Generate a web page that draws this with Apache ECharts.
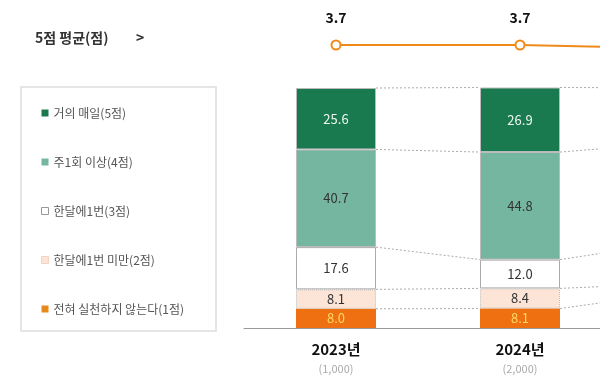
<!DOCTYPE html>
<html><head><meta charset="utf-8">
<script src="https://cdn.jsdelivr.net/npm/echarts@6/dist/echarts.min.js"></script>
<style>html,body{margin:0;padding:0;overflow:hidden;background:#fff;width:600px;height:383px}#c{width:900px;height:383px}</style>
</head><body><div id="c"></div>
<script>
// ---- data ----
const years = ['2023년', '2024년', '2025년'];
const sampleSizes = ['1,000', '2,000', '2,000'];
const avgScore = [3.7, 3.7, 3.6];
const seriesNames = ['전혀 실천하지 않는다(1점)', '한달에1번 미만(2점)', '한달에1번(3점)', '주1회 이상(4점)', '거의 매일(5점)'];
const score1 = [8.0, 8.1, 14.2];
const score2 = [8.1, 8.4, 4.2];
const score3 = [17.6, 12.0, 16.7];
const score4 = [40.7, 44.8, 41.7];
const score5 = [25.6, 26.9, 23.3];
const legendOrder = ['거의 매일(5점)', '주1회 이상(4점)', '한달에1번(3점)', '한달에1번 미만(2점)', '전혀 실천하지 않는다(1점)'];

const stackVals = [score1, score2, score3, score4, score5];
const colors = ['#ee7010', '#fce4d6', '#ffffff', '#74b6a0', '#1a7a4f'];
const legendColors = ['#e8891a', '#fce4d6', '#ffffff', '#74b6a0', '#1a7a4f'];
const labelColors = ['#ffd966', '#333333', '#333333', '#333333', '#eef8ee'];
const borders = [
  {borderWidth: 0},
  {borderColor: '#bbb', borderWidth: 1, borderType: 'dotted'},
  {borderColor: '#aaa', borderWidth: 1},
  {borderColor: '#bbb', borderWidth: 1},
  {borderColor: '#bbb', borderWidth: 1}
];

// connector data: cumulative boundaries between consecutive bars
const connData = [];
for (let i = 0; i < years.length - 1; i++) {
  let a = 0, b = 0;
  for (let s = 0; s < stackVals.length; s++) {
    a += stackVals[s][i]; b += stackVals[s][i + 1];
    connData.push([i, a, b]);
  }
}

const FONT = '"Noto Sans CJK KR", "Noto Sans", sans-serif';
const chart = echarts.init(document.getElementById('c'), null, {renderer: 'canvas'});

const barSeries = seriesNames.map((n, s) => ({
  name: n, type: 'bar', stack: 'total', barWidth: 80,
  xAxisIndex: 0, yAxisIndex: 0,
  data: stackVals[s],
  itemStyle: Object.assign({color: colors[s]}, borders[s]),
  label: {show: true, position: 'inside', color: labelColors[s], fontSize: 13, fontFamily: FONT,
    formatter: p => p.value.toFixed(1)},
  emphasis: {disabled: true},
  z: 3
}));

const legendData = legendOrder.map(n => {
  const s = seriesNames.indexOf(n);
  const st = {color: legendColors[s], borderWidth: 0};
  if (s === 2) { st.borderColor = '#999'; st.borderWidth = 1; }
  if (s === 1) { st.borderColor = '#f0d5c5'; st.borderWidth = 1; }
  return {name: n, itemStyle: st};
});

chart.setOption({
  animation: false,
  textStyle: {fontFamily: FONT},
  grid: [
    {left: 244, right: 104, top: 88, bottom: 55},
    {left: 244, right: 104, top: 33, height: 40}
  ],
  xAxis: [
    {type: 'category', data: years, gridIndex: 0,
      axisLine: {lineStyle: {color: '#999', width: 1}}, axisTick: {show: false},
      axisLabel: {margin: 11, interval: 0,
        formatter: (v, i) => '{a|' + v + '}\n{b|(' + sampleSizes[i] + ')}',
        rich: {a: {fontSize: 15, fontWeight: 'bold', color: '#111', lineHeight: 20, fontFamily: FONT},
               b: {fontSize: 11, color: '#aaa', lineHeight: 19, fontFamily: FONT}}}},
    {type: 'category', data: years, gridIndex: 1, show: false}
  ],
  yAxis: [
    {type: 'value', min: 0, max: 100, gridIndex: 0, show: false},
    {type: 'value', min: 3, max: 4, gridIndex: 1, show: false}
  ],
  legend: {
    orient: 'vertical', left: 36, top: 101, itemWidth: 7, itemHeight: 7, itemGap: 35,
    icon: 'rect', data: legendData,
    textStyle: {fontSize: 12, color: '#555', lineHeight: 14, fontFamily: FONT}
  },
  graphic: [
    {type: 'rect', shape: {x: 21, y: 87, width: 195, height: 244},
      style: {fill: 'none', stroke: '#dddddd', lineWidth: 1.5}, silent: true, z: 0},
    {type: 'text', left: 35, top: 31, style: {text: '5점 평균(점)', font: 'bold 14px ' + FONT, fill: '#333'}},
    {type: 'text', left: 136, top: 31, style: {text: '>', font: 'bold 14px ' + FONT, fill: '#333'}}
  ],
  series: [
    ...barSeries,
    {type: 'custom', xAxisIndex: 0, yAxisIndex: 0, data: connData, silent: true, z: 1,
      renderItem: (params, api) => {
        const p1 = api.coord([api.value(0), api.value(1)]);
        const p2 = api.coord([api.value(0) + 1, api.value(2)]);
        return {type: 'line', shape: {x1: p1[0] + 40, y1: p1[1], x2: p2[0] - 40, y2: p2[1]},
          style: {stroke: '#aaa', lineWidth: 1, lineDash: [2, 2]}};
      }},
    {type: 'line', name: '5점 평균', xAxisIndex: 1, yAxisIndex: 1, data: avgScore,
      symbol: 'circle', symbolSize: 9,
      lineStyle: {color: '#ef8a1a', width: 2},
      itemStyle: {color: '#fff', borderColor: '#ef8a1a', borderWidth: 2},
      label: {show: true, position: 'top', distance: 15, fontSize: 14, fontWeight: 'bold', color: '#111',
        fontFamily: FONT, formatter: p => p.value.toFixed(1)},
      emphasis: {disabled: true}, z: 5}
  ]
});
</script></body></html>
